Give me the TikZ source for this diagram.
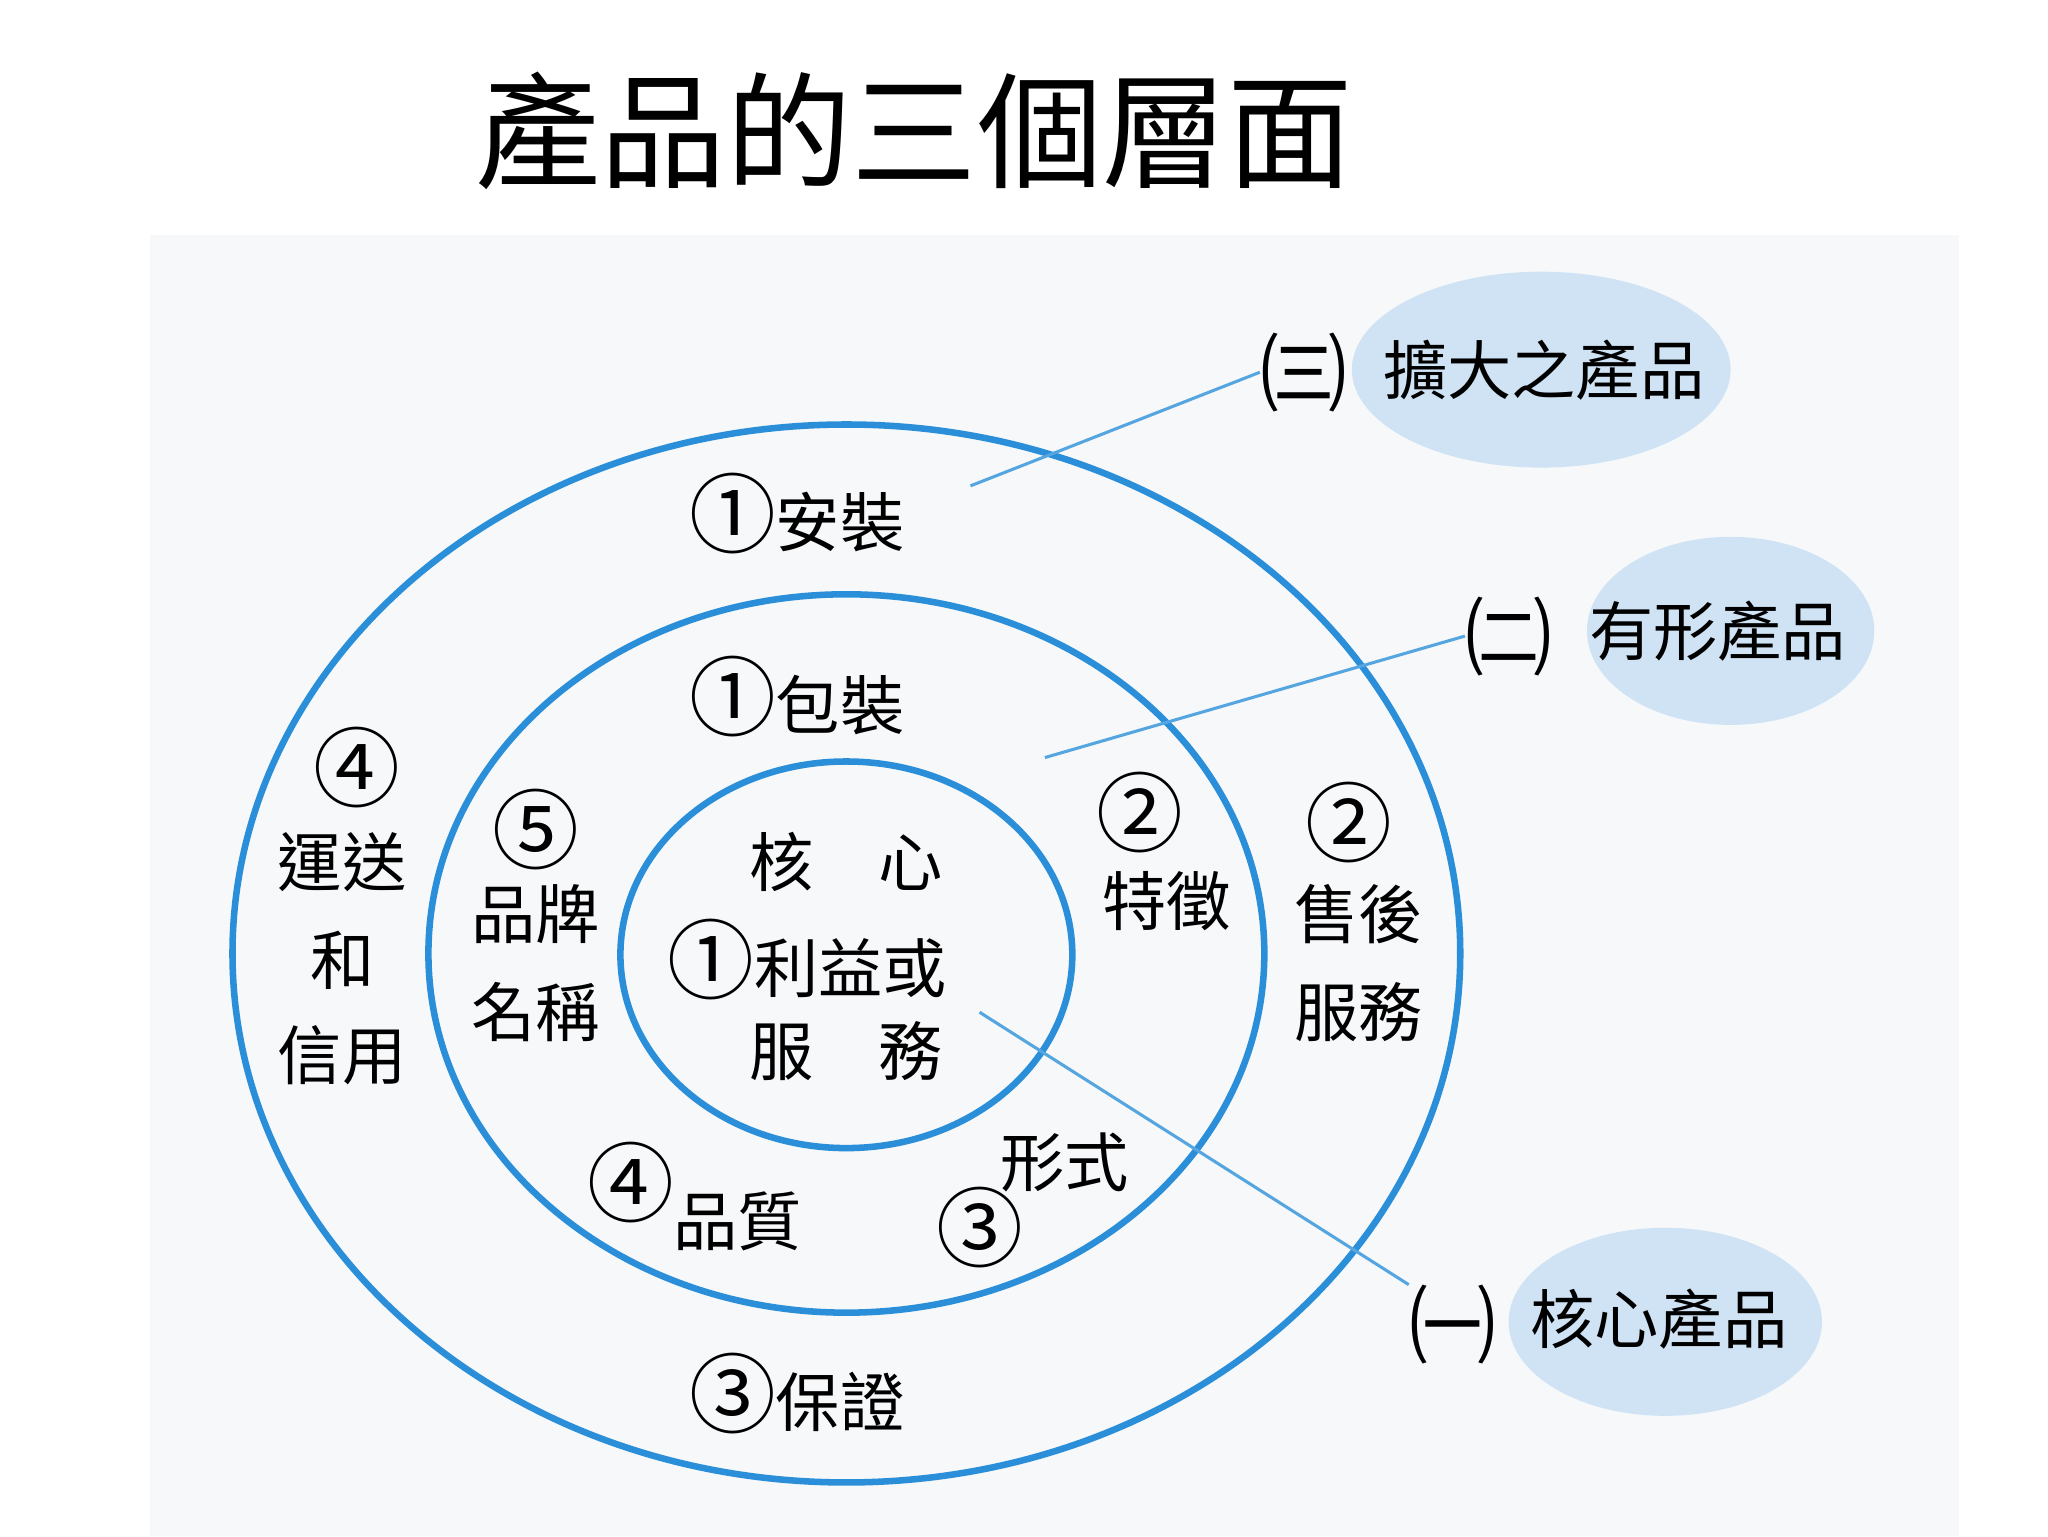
\documentclass[tikz,border=0pt]{standalone}
\usepackage{fontspec}
\setmainfont{Noto Sans CJK TC}
\newcommand{\cn}[1]{\scalebox{1.35}{#1}}
\begin{document}
\begin{tikzpicture}[x=0.03cm,y=-0.03cm,
 ring/.style={draw=ringblue,line width=0.15cm},
 lead/.style={draw=ringblue!80,line width=0.07cm},
 blob/.style={fill=blobblue,draw=none},
 lbl/.style={inner sep=0pt,font=\fontsize{42}{50}\selectfont},
 ttl/.style={inner sep=0pt,font=\fontsize{82}{90}\selectfont}]
\definecolor{ringblue}{HTML}{2A8FD8}
\definecolor{blobblue}{HTML}{CFE3F5}
\definecolor{bg}{HTML}{F6F8FA}
\useasboundingbox (0,0) rectangle (1568,1176);
\fill[white] (0,0) rectangle (1568,1176);
\fill[bg] (115,180) rectangle (1500,1176);
\node[ttl] (title) at (700,100) {產品的三個層面};
% blobs
\fill[blob] (1180,283) ellipse [x radius=145,y radius=75];
\fill[blob] (1325,483) ellipse [x radius=110,y radius=72];
\fill[blob] (1275,1012) ellipse [x radius=120,y radius=72];
% rings
\draw[ring] (648,730) ellipse [x radius=470,y radius=405];
\draw[ring] (648,730) ellipse [x radius=320,y radius=275];
\draw[ring] (648,731) ellipse [x radius=173,y radius=148];
% labels right
\node[lbl] (p3) at (998,285) {\cn{㈢}};
\node[lbl] (t3) at (1182,283) {擴大之產品};
\node[lbl] (p2) at (1155,487) {\cn{㈡}};
\node[lbl] (t2) at (1315,483) {有形產品};
\node[lbl] (p1) at (1112,1014) {\cn{㈠}};
\node[lbl] (t1) at (1270,1010) {核心產品};
\coordinate (a3) at (743,372);
\coordinate (a2) at (800,580);
\coordinate (a1) at (750,775);
\draw[lead] (a3) -- (p3.west);
\draw[lead] (a2) -- (p2.west);
\draw[lead] (a1) -- (p1.north west);
% texts
\node[lbl] (n1) at (610,393) {\cn{①}安裝};
\node[lbl] (n2) at (610,533) {\cn{①}包裝};
\node[lbl] (n3) at (273,588) {\cn{④}};
\node[lbl] (n4) at (262,660) {運送};
\node[lbl] (n5) at (262,735) {和};
\node[lbl] (n6) at (262,808) {信用};
\node[lbl] (n7) at (410,635) {\cn{⑤}};
\node[lbl] (n8) at (410,700) {品牌};
\node[lbl] (n9) at (410,775) {名稱};
\node[lbl] (c1) at (648,660) {核　心};
\node[lbl] (c2) at (618,735) {\cn{①}利益或};
\node[lbl] (c3) at (648,805) {服　務};
\node[lbl] (m1) at (873,622) {\cn{②}};
\node[lbl] (m2) at (893,690) {特徵};
\node[lbl] (o1) at (1033,630) {\cn{②}};
\node[lbl] (o2) at (1040,700) {售後};
\node[lbl] (o3) at (1040,775) {服務};
\node[lbl] (f1) at (815,890) {形式};
\node[lbl] (f2) at (750,940) {\cn{③}};
\node[lbl] (q1) at (483,905) {\cn{④}};
\node[lbl] (q2) at (565,935) {品質};
\node[lbl] (g1) at (610,1067) {\cn{③}保證};
\end{tikzpicture}
\end{document}
